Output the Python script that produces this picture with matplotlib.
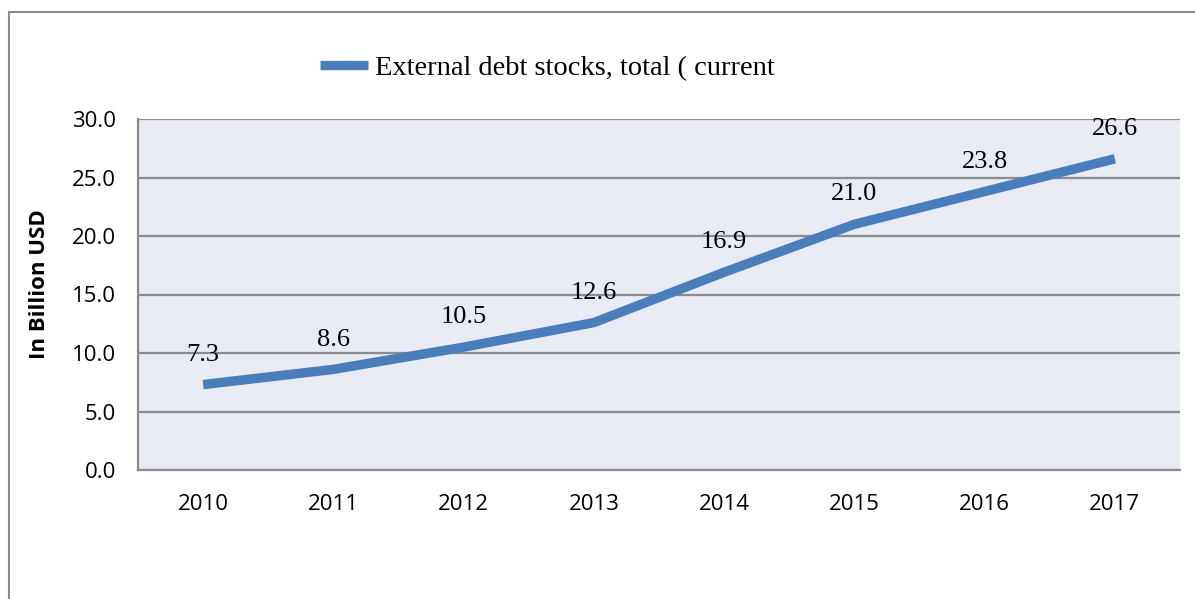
import matplotlib

matplotlib.use("Agg")
import matplotlib.pyplot as plt
from matplotlib.lines import Line2D
from matplotlib.patches import Rectangle

YEARS = ["2010", "2011", "2012", "2013", "2014", "2015", "2016", "2017"]
DEBT = [7.3, 8.6, 10.5, 12.6, 16.9, 21.0, 23.8, 26.6]
SERIES_LABEL = "External debt stocks, total ( current"
Y_TICKS = [0, 5, 10, 15, 20, 25, 30]

LINE_COLOR = "#4A7EBB"
PLOT_BG = "#E8EAF4"
GRID = "#8C8C8C"
SANS = "Open Sans"
SERIF = "Liberation Serif"

fig = plt.figure(figsize=(11.95, 5.99), dpi=100)
W, H = 1195, 599

# chart frame (runs off the right and bottom edges)
fig.patches.append(Rectangle((9 / W, -0.1), 1.2, 1 - 12 / H + 0.1,
                             transform=fig.transFigure, fill=False,
                             edgecolor="#8C8C8C", linewidth=1.5))

ax = fig.add_axes([138 / W, 1 - 470 / H, (1180 - 138) / W, (470 - 119) / H])
ax.set_facecolor(PLOT_BG)

x = list(range(len(YEARS)))
ax.plot(x, DEBT, color=LINE_COLOR, linewidth=6.8, solid_capstyle="butt",
        solid_joinstyle="round", zorder=3)
for xi, v in zip(x, DEBT):
    ax.annotate(f"{v:.1f}", (xi, v), xytext=(0, 21.5), textcoords="offset points",
                ha="center", va="center", fontsize=19, family=SERIF)

ax.set_xlim(-0.5, len(YEARS) - 0.5)
ax.set_ylim(0, 30)
ax.set_yticks(Y_TICKS)
ax.set_yticklabels([f"{t:.1f}" for t in Y_TICKS], family=SANS, fontsize=16)
ax.set_xticks(x)
ax.set_xticklabels(YEARS, family=SANS, fontsize=16)
ax.tick_params(axis="y", length=0, pad=16)
ax.tick_params(axis="x", length=0, pad=17)
ax.yaxis.grid(True, color=GRID, linewidth=1.6)
ax.set_axisbelow(True)

for side in ("top", "right"):
    ax.spines[side].set_visible(False)
for side in ("left", "bottom"):
    ax.spines[side].set_color(GRID)
    ax.spines[side].set_linewidth(1.6)

fig.text(40 / W, 1 - 284 / H, "In Billion USD", rotation=90, ha="center",
         va="center", fontsize=16, fontweight="bold", family=SANS)

handle = Line2D([], [], color=LINE_COLOR, linewidth=6.8, solid_capstyle="butt")
fig.legend([handle], [SERIES_LABEL], loc="center left",
           bbox_to_anchor=(320 / W, 1 - 68 / H), frameon=False,
           borderpad=0, borderaxespad=0, handlelength=1.7, handletextpad=0.22,
           prop={"family": SERIF, "size": 20.5})

fig.savefig("out.png", dpi=100)
